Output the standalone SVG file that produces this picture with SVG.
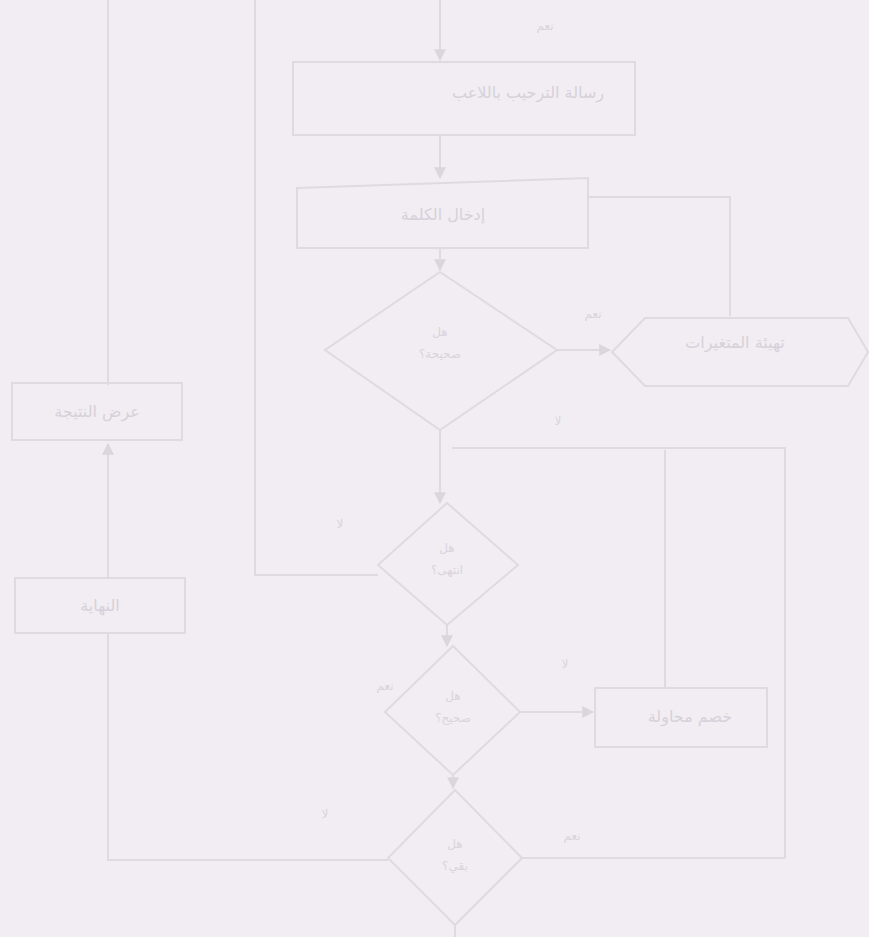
<svg xmlns="http://www.w3.org/2000/svg" width="869" height="937" viewBox="0 0 869 937">
<style>
.bg{fill:#f1edf2}
.n{fill:none;stroke:#dfdae2;stroke-width:2}
.c{fill:none;stroke:#dfdae2;stroke-width:2}
.t{font-family:"DejaVu Sans","Noto Sans",sans-serif;font-size:16px;fill:#d6d1da;text-anchor:middle}
.s{font-family:"DejaVu Sans","Noto Sans",sans-serif;font-size:12px;fill:#d9d4dd;text-anchor:middle}
</style>
<defs>
<marker id="a" viewBox="0 0 10 10" refX="9" refY="5" markerWidth="6" markerHeight="6" orient="auto-start-reverse">
<path d="M0,0 L10,5 L0,10 z" fill="#dbd6de"/>
</marker>
</defs>
<rect class="bg" x="0" y="0" width="869" height="937"/>
<g id="connectors">
<path class="c" d="M440,0 V60" marker-end="url(#a)"/>
<path class="c" d="M440,135 V178" marker-end="url(#a)"/>
<path class="c" d="M440,248 V270" marker-end="url(#a)"/>
<path class="c" d="M588,197 H730 V316"/>
<path class="c" d="M557,350 H610" marker-end="url(#a)"/>
<path class="c" d="M440,430 V503" marker-end="url(#a)"/>
<path class="c" d="M785,858 V448 H452"/>
<path class="c" d="M665,688 V450"/>
<path class="c" d="M378,575 H255 V0"/>
<path class="c" d="M447,625 V646" marker-end="url(#a)"/>
<path class="c" d="M520,712 H593" marker-end="url(#a)"/>
<path class="c" d="M453,775 V788" marker-end="url(#a)"/>
<path class="c" d="M522,858 H785"/>
<path class="c" d="M388,860 H108 V634"/>
<path class="c" d="M108,578 V444" marker-end="url(#a)"/>
<path class="c" d="M108,385 V0"/>
<path class="c" d="M455,925 V937"/>
<text class="s" x="545" y="30">نعم</text>
<text class="s" x="593" y="318">نعم</text>
<text class="s" x="558" y="425">لا</text>
<text class="s" x="340" y="528">لا</text>
<text class="s" x="385" y="690">نعم</text>
<text class="s" x="565" y="668">لا</text>
<text class="s" x="325" y="818">لا</text>
<text class="s" x="572" y="840">نعم</text>
</g>
<g id="n1"><rect class="n" x="293" y="62" width="342" height="73"/><text class="t" x="528" y="98">رسالة الترحيب باللاعب</text></g>
<g id="n2"><path class="n" d="M297,188 L588,178 L588,248 L297,248 Z"/><text class="t" x="443" y="220">إدخال الكلمة</text></g>
<g id="n3"><path class="n" d="M612,352 L645,318 L848,318 L868,352 L848,386 L645,386 Z"/><text class="t" x="735" y="348">تهيئة المتغيرات</text></g>
<g id="d1"><path class="n" d="M440,272 L557,350 L440,430 L325,350 Z"/><text class="s" x="440" y="336">هل</text><text class="s" x="440" y="358">صحيحة؟</text></g>
<g id="n4"><rect class="n" x="12" y="383" width="170" height="57"/><text class="t" x="97" y="417">عرض النتيجة</text></g>
<g id="n5"><rect class="n" x="15" y="578" width="170" height="55"/><text class="t" x="100" y="611">النهاية</text></g>
<g id="d2"><path class="n" d="M447,503 L518,565 L447,625 L378,565 Z"/><text class="s" x="447" y="552">هل</text><text class="s" x="447" y="574">انتهى؟</text></g>
<g id="d3"><path class="n" d="M453,646 L520,712 L453,775 L385,712 Z"/><text class="s" x="453" y="700">هل</text><text class="s" x="453" y="722">صحيح؟</text></g>
<g id="n6"><rect class="n" x="595" y="688" width="172" height="59"/><text class="t" x="690" y="722">خصم محاولة</text></g>
<g id="d4"><path class="n" d="M455,790 L522,858 L455,925 L388,858 Z"/><text class="s" x="455" y="848">هل</text><text class="s" x="455" y="870">بقي؟</text></g>
</svg>
